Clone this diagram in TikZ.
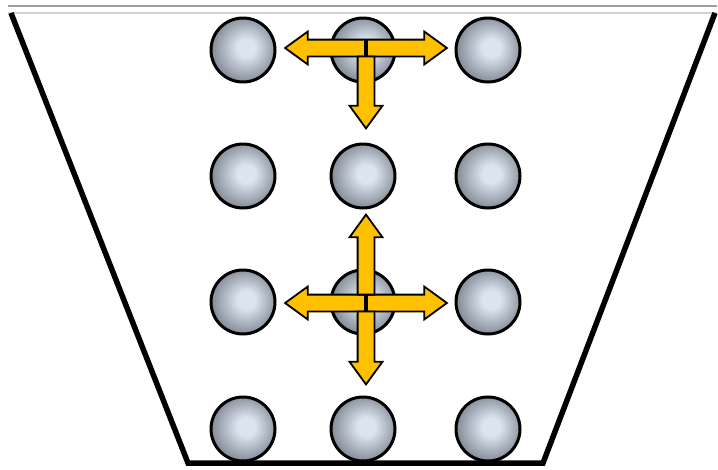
\documentclass[tikz,border=0pt]{standalone}
\usepackage{tikz}
\usetikzlibrary{arrows.meta,positioning,calc,shapes.arrows}
\definecolor{ballhi}{HTML}{DCE4EF}
\definecolor{ballmid}{HTML}{979FAB}
\definecolor{balllo}{HTML}{676C75}
\definecolor{flowyel}{HTML}{FFC000}
\pgfdeclareradialshading{ballshade}{\pgfpoint{3bp}{2bp}}{color(0bp)=(ballhi);color(7bp)=(ballhi);color(22bp)=(ballmid);color(33bp)=(balllo);color(50bp)=(balllo)}
\begin{document}
\begin{tikzpicture}[x=1pt,y=-1pt,
ball/.style={circle,draw,line width=3pt,minimum size=64pt,inner sep=0pt,shading=ballshade},
flow/.style={single arrow,draw,line width=1.8pt,fill=flowyel,anchor=tail,inner xsep=0pt,inner ysep=7.5pt,
  text height=0pt,text depth=0pt,text width=0pt,minimum width=31pt,single arrow head extend=8pt,single arrow tip angle=72}]
\useasboundingbox (0,0) rectangle (718,469);
% rim
\draw[gray!75,line width=1.2pt] (8,6)--(717,6);
\draw[gray!35,line width=1.2pt] (8,13)--(717,13);
% vessel
\coordinate (tl) at (11,13);
\coordinate (bl) at (188,463);
\coordinate (br) at (543,463);
\coordinate (tr) at (715,13);
\draw[line width=5.5pt,line join=miter] (tl)--(bl)--(br)--(tr);
% balls
\foreach \r/\y in {1/50,2/176,3/302,4/429}{
  \foreach \c/\x in {1/243,2/363,3/488}{
    \node[ball] (b\r\c) at (\x,\y) {};
  }
}
% arrows, top row
\coordinate (ctop) at (366,48);
\node[flow,minimum height=80pt,rotate=180] (aTl) at (ctop) {};
\node[flow,minimum height=80pt] (aTr) at (ctop) {};
\node[flow,minimum height=72pt,rotate=270] (aTd) at ($(ctop)+(0,7.5)$) {};
% arrows, third row
\coordinate (cmid) at (366,303);
\node[flow,minimum height=80pt,rotate=180] (aMl) at (cmid) {};
\node[flow,minimum height=80pt] (aMr) at (cmid) {};
\node[flow,minimum height=80pt,rotate=90] (aMu) at ($(cmid)+(0,-7.5)$) {};
\node[flow,minimum height=73pt,rotate=270] (aMd) at ($(cmid)+(0,7.5)$) {};
\end{tikzpicture}
\end{document}
